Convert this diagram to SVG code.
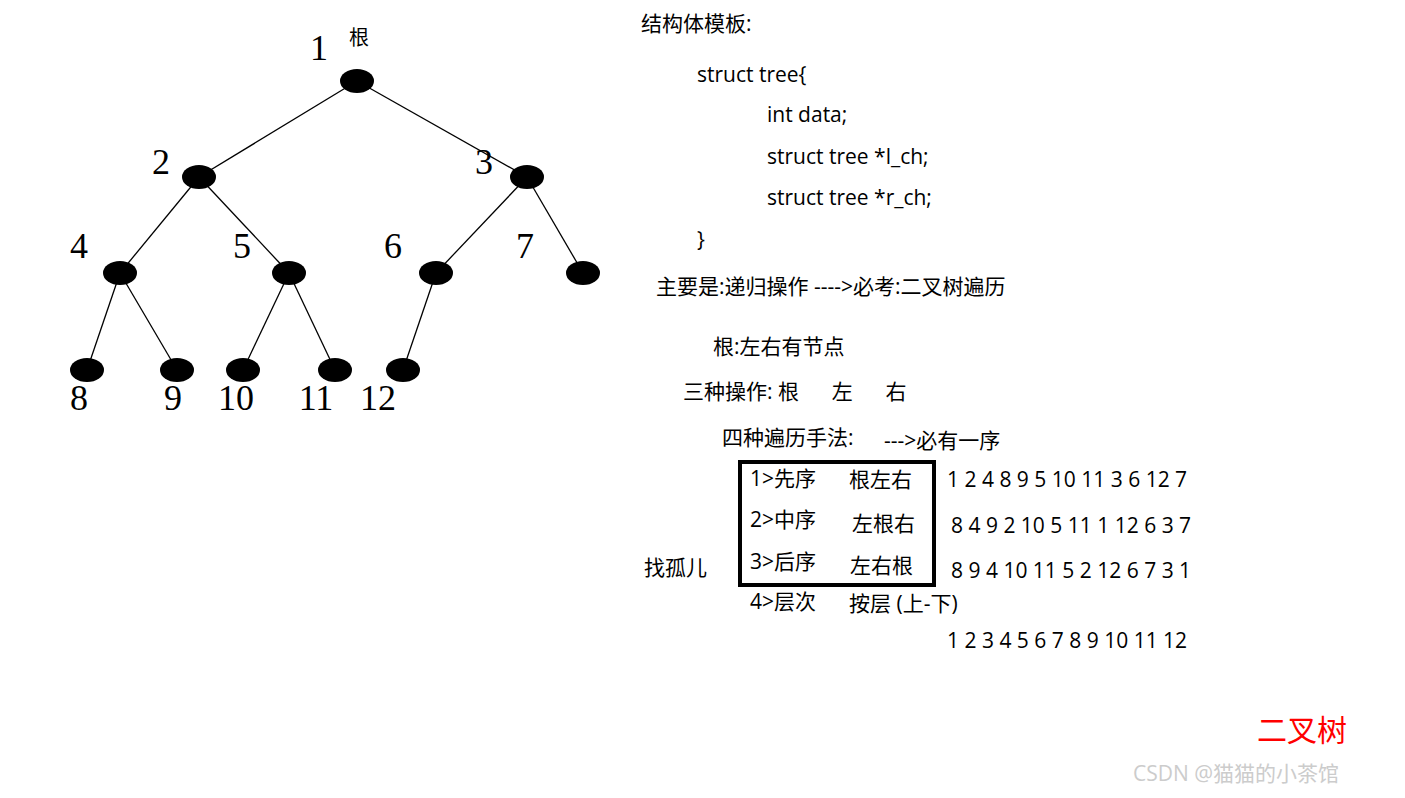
<svg xmlns="http://www.w3.org/2000/svg" width="1405" height="798" viewBox="0 0 1405 798">
<style>
.n{fill:#000}
.e line{stroke:#000;stroke-width:1.3}
.num{font-family:"Liberation Serif",serif;font-size:36px;fill:#000;text-anchor:middle}
.t{font-family:"Open Sans","Noto Sans CJK SC",sans-serif;font-size:21px;fill:#000}
</style>
<rect width="1405" height="798" fill="#fff"/>
<g class="e" id="connectors">
<line x1="357" y1="81" x2="199" y2="177"/><line x1="357" y1="81" x2="527" y2="177"/>
<line x1="199" y1="177" x2="120" y2="273"/><line x1="199" y1="177" x2="289" y2="273"/>
<line x1="527" y1="177" x2="436" y2="273"/><line x1="527" y1="177" x2="583" y2="273"/>
<line x1="120" y1="273" x2="87" y2="370"/><line x1="120" y1="273" x2="177" y2="370"/>
<line x1="289" y1="273" x2="243" y2="370"/><line x1="289" y1="273" x2="335" y2="370"/>
<line x1="436" y1="273" x2="403" y2="370"/>
</g>
<g id="n1"><ellipse class="n" cx="357" cy="81" rx="17" ry="12"/><text class="num" x="319" y="60">1</text><text class="t" x="349" y="45" style="font-size:20px">根</text></g>
<g id="n2"><ellipse class="n" cx="199" cy="177" rx="17" ry="12"/><text class="num" x="161" y="174">2</text></g>
<g id="n3"><ellipse class="n" cx="527" cy="177" rx="17" ry="12"/><text class="num" x="484" y="174">3</text></g>
<g id="n4"><ellipse class="n" cx="120" cy="273" rx="17" ry="12"/><text class="num" x="79" y="258">4</text></g>
<g id="n5"><ellipse class="n" cx="289" cy="273" rx="17" ry="12"/><text class="num" x="242" y="258">5</text></g>
<g id="n6"><ellipse class="n" cx="436" cy="273" rx="17" ry="12"/><text class="num" x="393" y="258">6</text></g>
<g id="n7"><ellipse class="n" cx="583" cy="273" rx="17" ry="12"/><text class="num" x="525" y="258">7</text></g>
<g id="n8"><ellipse class="n" cx="87" cy="370" rx="17" ry="12"/><text class="num" x="79" y="410">8</text></g>
<g id="n9"><ellipse class="n" cx="177" cy="370" rx="17" ry="12"/><text class="num" x="173" y="410">9</text></g>
<g id="n10"><ellipse class="n" cx="243" cy="370" rx="17" ry="12"/><text class="num" x="236" y="410">10</text></g>
<g id="n11"><ellipse class="n" cx="335" cy="370" rx="17" ry="12"/><text class="num" x="316" y="410">11</text></g>
<g id="n12"><ellipse class="n" cx="403" cy="370" rx="17" ry="12"/><text class="num" x="378" y="410">12</text></g>
<g id="text">
<text class="t" x="641" y="31">结构体模板:</text>
<text class="t" x="697" y="82">struct tree{</text>
<text class="t" x="767" y="122">int data;</text>
<text class="t" x="767" y="164">struct tree *l_ch;</text>
<text class="t" x="767" y="205">struct tree *r_ch;</text>
<text class="t" x="697" y="247">}</text>
<text class="t" x="656" y="294">主要是:递归操作  ---->必考:二叉树遍历</text>
<text class="t" x="713" y="354">根:左右有节点</text>
<text class="t" x="683" y="399" xml:space="preserve">三种操作: 根      左      右</text>
<text class="t" x="722" y="445">四种遍历手法:</text>
<text class="t" x="884" y="448">--->必有一序</text>
<rect x="740" y="462" width="194" height="123" fill="none" stroke="#000" stroke-width="4"/>
<text class="t" x="750" y="486">1>先序</text><text class="t" x="849" y="487">根左右</text>
<text class="t" x="750" y="527">2>中序</text><text class="t" x="852" y="531">左根右</text>
<text class="t" x="750" y="569">3>后序</text><text class="t" x="850" y="573">左右根</text>
<text class="t" x="750" y="609">4>层次</text><text class="t" x="849" y="611">按层 (上-下)</text>
<text class="t" x="644" y="575">找孤儿</text>
<text class="t" x="947" y="487">1 2 4 8 9 5 10 11 3 6 12 7</text>
<text class="t" x="951" y="533">8 4 9 2 10 5 11 1 12 6 3 7</text>
<text class="t" x="951" y="578">8 9 4 10 11 5 2 12 6 7 3 1</text>
<text class="t" x="947" y="648">1 2 3 4 5 6 7 8 9 10 11 12</text>
<text class="t" x="1257" y="741" style="fill:#f00;font-size:30px">二叉树</text>
<text class="t" x="1133" y="781" style="fill:#ccc;font-size:21px">CSDN @猫猫的小茶馆</text>
</g>
</svg>
